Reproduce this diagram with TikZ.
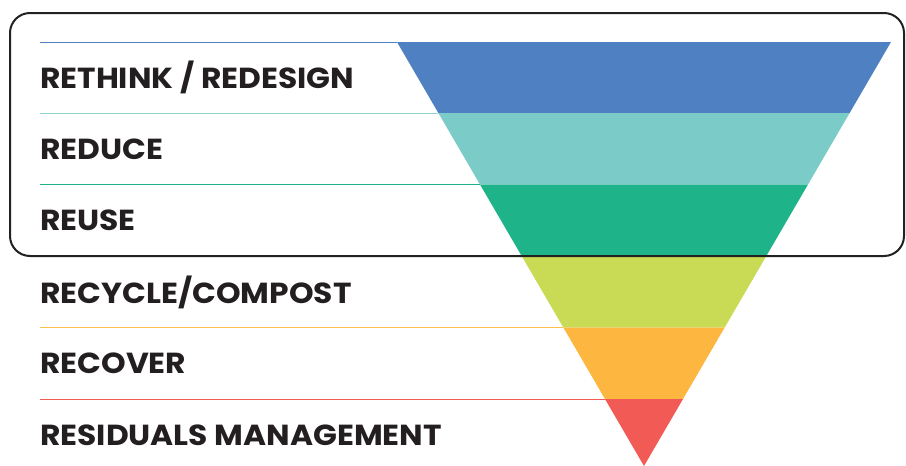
\documentclass[tikz,border=0pt]{standalone}
\usepackage{fontspec}
\setmainfont{Poppins}[BoldFeatures={FakeStretch=1.08}]
\definecolor{cBlue}{HTML}{4F81C2}
\definecolor{cTeal}{HTML}{7BCBC8}
\definecolor{cTealLine}{HTML}{8FD3D0}
\definecolor{cGreen}{HTML}{1FB38A}
\definecolor{cLime}{HTML}{C9DB54}
\definecolor{cOrange}{HTML}{FDB740}
\definecolor{cOrangeLine}{HTML}{FBC050}
\definecolor{cRed}{HTML}{F15A55}
\definecolor{cText}{HTML}{231F20}
\definecolor{cFrame}{HTML}{222222}
\tikzset{
  lbl/.style={anchor=west, inner sep=0pt, text=cText, font=\fontsize{29}{30}\selectfont\bfseries},
  sepline/.style={line width=1.2pt},
  frame/.style={draw=cFrame, line width=2pt, rounded corners=20pt}
}
\begin{document}
\begin{tikzpicture}[x=1pt,y=-1pt]
\useasboundingbox (0,0) rectangle (906,466);
\pgfmathsetmacro{\sl}{247/424}
\pgfmathsetmacro{\sr}{247/424}
\foreach \top/\bot/\col in {42/113/cBlue,113/184.5/cTeal,184.5/256/cGreen,256/327.5/cLime,327.5/399/cOrange} {
  \fill[\col] ({397+(\top-42)*\sl},\top) -- ({891-(\top-42)*\sr},\top) -- ({891-(\bot-42)*\sr},\bot) -- ({397+(\bot-42)*\sl},\bot) -- cycle;
}
\fill[cRed] ({397+(399-42)*\sl},399) -- ({891-(399-42)*\sr},399) -- (644,466) -- cycle;
% separator lines
\coordinate (l1a) at (40,42.5);   \coordinate (l1b) at (397,42.5);
\coordinate (l2a) at (40,113.5);  \coordinate (l2b) at ({397+(113-42)*\sl},113.5);
\coordinate (l3a) at (40,184.5);  \coordinate (l3b) at ({397+(184.5-42)*\sl},184.5);
\coordinate (l5a) at (40,327.5);  \coordinate (l5b) at ({397+(327.5-42)*\sl},327.5);
\coordinate (l6a) at (40,399.5);  \coordinate (l6b) at ({397+(399-42)*\sl},399.5);
\draw[sepline, draw=cBlue] (l1a) -- (l1b);
\draw[sepline, draw=cTealLine] (l2a) -- (l2b);
\draw[sepline, draw=cGreen] (l3a) -- (l3b);
\draw[sepline, draw=cOrangeLine] (l5a) -- (l5b);
\draw[sepline, draw=cRed] (l6a) -- (l6b);
% frame
\draw[frame] (10,13) rectangle (904,256);
% labels
\node[lbl] (rethink) at (40,77.5) {RETHINK / REDESIGN};
\node[lbl] (reduce) at (40,149.5) {REDUCE};
\node[lbl] (reuse) at (40,220.5) {REUSE};
\node[lbl] (recycle) at (40,292) {RECYCLE/COMPOST};
\node[lbl] (recover) at (40,363) {RECOVER};
\node[lbl] (residuals) at (40,435) {RESIDUALS MANAGEMENT};
\end{tikzpicture}
\end{document}
